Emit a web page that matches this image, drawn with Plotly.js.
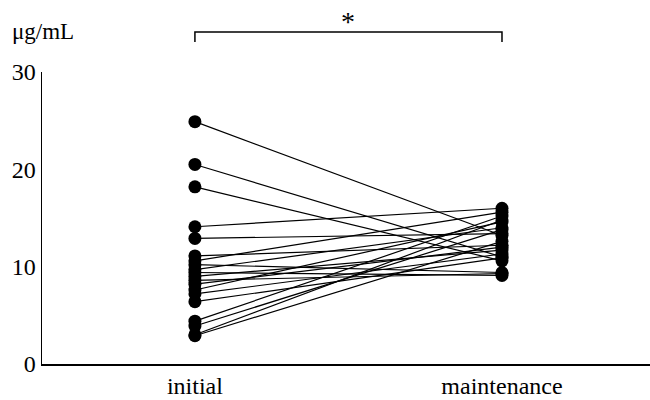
<!DOCTYPE html>
<html>
<head>
<meta charset="utf-8">
<script src="https://cdn.plot.ly/plotly-3.0.1.min.js"></script>
<style>html,body{margin:0;padding:0;background:#fff;}#chart{width:650px;height:400px;}</style>
</head>
<body>
<div id="chart"></div>
<script>
const categories = ["initial", "maintenance"];
const initialValues = [24.9, 20.5, 18.2, 14.1, 12.9, 11.1, 10.6, 10.2, 9.7, 9.4, 9.0, 8.6, 8.2, 7.6, 7.2, 6.4, 4.4, 3.9, 3.0, 2.9];
const maintenanceValues = [13.2, 11.0, 10.6, 16.0, 13.4, 12.2, 15.6, 9.4, 14.0, 9.1, 11.7, 9.3, 12.0, 14.6, 11.3, 10.9, 15.2, 13.8, 14.8, 12.6];
const yTicks = [0, 10, 20, 30];
const unitLabel = "μg/mL";
const sigLabel = "*";

const traces = initialValues.map((v, i) => ({
  x: [0, 1],
  y: [v, maintenanceValues[i]],
  mode: "lines+markers",
  type: "scatter",
  line: {color: "#000", width: 1.2},
  marker: {color: "#000", size: 13},
  showlegend: false,
  hoverinfo: "y"
}));

const serif = "Liberation Serif, Times New Roman, serif";
const layout = {
  width: 650, height: 400,
  margin: {l: 42, r: 0, t: 72, b: 36},
  paper_bgcolor: "#fff", plot_bgcolor: "#fff",
  font: {family: serif, color: "#000", size: 24},
  xaxis: {
    range: [-0.498, 1.482],
    tickvals: [0, 1], ticktext: categories,
    showgrid: false, zeroline: false,
    showline: true, linecolor: "#000", linewidth: 1.5,
    ticks: "", tickfont: {family: serif, size: 24, color: "#000"}
  },
  yaxis: {
    range: [0, 30],
    tickvals: yTicks, ticktext: yTicks.map(String),
    showgrid: false, zeroline: false,
    showline: true, linecolor: "#000", linewidth: 1.5,
    ticks: "", tickfont: {family: serif, size: 24, color: "#000"}
  },
  shapes: [
    {type: "path", xref: "x", yref: "paper",
     path: "M 0,1.103 L 0,1.137 L 1,1.137 L 1,1.103",
     line: {color: "#000", width: 1.5}}
  ],
  annotations: [
    {text: sigLabel, x: 0.5, xref: "x", y: 1 + (72 - 22) / 292, yref: "paper", yanchor: "middle",
     showarrow: false, font: {family: serif, size: 28, color: "#000"}},
    {text: unitLabel, x: (10 - 42) / 608, xref: "paper", xanchor: "left",
     y: 1 + (72 - 32) / 292, yref: "paper", yanchor: "middle",
     showarrow: false, font: {family: serif, size: 23, color: "#000"}}
  ]
};

Plotly.newPlot("chart", traces, layout, {displayModeBar: false, staticPlot: true});
</script>
</body>
</html>
